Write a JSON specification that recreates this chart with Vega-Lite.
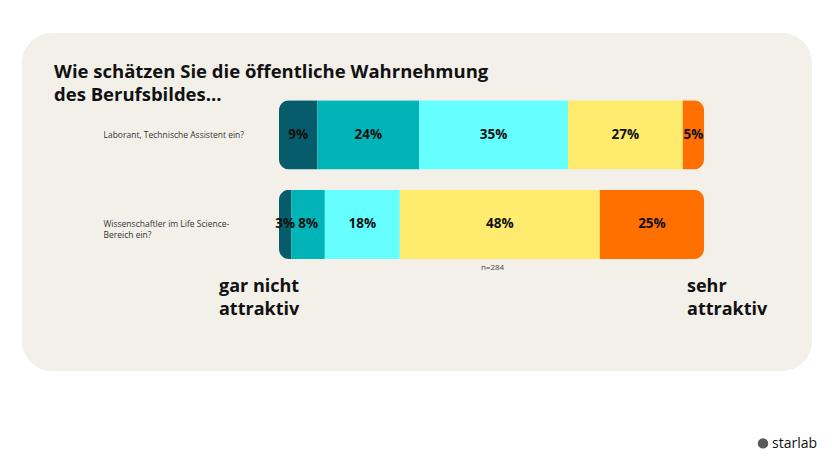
{
  "$schema": "https://vega.github.io/schema/vega-lite/v6.json",
  "autosize": {"type": "none"},
  "width": 790,
  "height": 338,
  "padding": {"left": 22, "top": 33, "right": 20, "bottom": 97},
  "background": "#ffffff",
  "view": {"fill": "#f3f0ea", "stroke": null, "cornerRadius": 30},
  "config": {"font": "Open Sans"},
  "title": {
    "text": ["Wie schätzen Sie die öffentliche Wahrnehmung", "des Berufsbildes..."],
    "anchor": "start",
    "frame": "group",
    "orient": "top",
    "offset": -71,
    "dx": 32,
    "fontSize": 18.5,
    "fontWeight": "bold",
    "color": "#111111",
    "lineHeight": 23,
    "font": "Open Sans"
  },
  "data": {
    "values": [
      {"item": "Laborant, Technische Assistent ein?", "level": 1, "value": 9, "label": "9%"},
      {"item": "Laborant, Technische Assistent ein?", "level": 2, "value": 24, "label": "24%"},
      {"item": "Laborant, Technische Assistent ein?", "level": 3, "value": 35, "label": "35%"},
      {"item": "Laborant, Technische Assistent ein?", "level": 4, "value": 27, "label": "27%"},
      {"item": "Laborant, Technische Assistent ein?", "level": 5, "value": 5, "label": "5%"},
      {"item": "Wissenschaftler im Life Science-Bereich ein?", "level": 1, "value": 3, "label": "3%"},
      {"item": "Wissenschaftler im Life Science-Bereich ein?", "level": 2, "value": 8, "label": "8%"},
      {"item": "Wissenschaftler im Life Science-Bereich ein?", "level": 3, "value": 18, "label": "18%"},
      {"item": "Wissenschaftler im Life Science-Bereich ein?", "level": 4, "value": 48, "label": "48%"},
      {"item": "Wissenschaftler im Life Science-Bereich ein?", "level": 5, "value": 25, "label": "25%"}
    ]
  },
  "layer": [
    {
      "mark": {"type": "bar", "cornerRadius": 10},
      "encoding": {
        "x": {
          "field": "value",
          "type": "quantitative",
          "stack": "normalize",
          "scale": {"domain": [-0.6047, 1.2541], "nice": false, "zero": false},
          "axis": null
        },
        "y": {
          "field": "item",
          "type": "nominal",
          "scale": {
            "domain": ["Laborant, Technische Assistent ein?", "Wissenschaftler im Life Science-Bereich ein?"],
            "paddingInner": 0.2235,
            "paddingOuter": 1.1,
            "align": 0.375
          },
          "axis": {
            "title": null,
            "domain": false,
            "ticks": false,
            "labelAlign": "left",
            "labelBaseline": "middle",
            "labelPadding": -81,
            "labelFontSize": 8.5,
            "labelColor": "#333333",
            "labelLimit": 300,
            "labelLineHeight": 11,
            "labelExpr": "datum.value == 'Wissenschaftler im Life Science-Bereich ein?' ? ['Wissenschaftler im Life Science-', 'Bereich ein?'] : datum.value"
          }
        },
        "color": {
          "field": "level",
          "type": "nominal",
          "scale": {"domain": [1, 2, 3, 4, 5], "range": ["#075c6c", "#00b4b8", "#66ffff", "#ffeb6e", "#ff7000"]},
          "legend": null
        },
        "order": {"field": "level", "type": "quantitative"}
      }
    },
    {
      "transform": [
        {"stack": "value", "groupby": ["item"], "sort": [{"field": "level"}], "offset": "normalize", "as": ["v0", "v1"]},
        {"fold": ["v0", "v1"], "as": ["edge", "pos"]}
      ],
      "mark": {"type": "text", "fontSize": 13.5, "fontWeight": "bold", "color": "#111111", "baseline": "middle"},
      "encoding": {
        "x": {"field": "pos", "aggregate": "mean", "type": "quantitative", "axis": null},
        "y": {"field": "item", "type": "nominal"},
        "detail": {"field": "level", "type": "nominal"},
        "text": {"field": "label", "type": "nominal"}
      }
    },
    {
      "data": {"values": [{"t": "gar nicht\nattraktiv"}]},
      "mark": {"type": "text", "fontSize": 18, "fontWeight": "bold", "color": "#111111", "align": "left", "baseline": "middle", "lineBreak": "\n", "lineHeight": 23, "dx": -60, "dy": 63},
      "encoding": {
        "x": {"datum": 0, "type": "quantitative", "axis": null},
        "y": {"datum": "Wissenschaftler im Life Science-Bereich ein?", "type": "nominal"},
        "text": {"field": "t", "type": "nominal"}
      }
    },
    {
      "data": {"values": [{"t": "sehr\nattraktiv"}]},
      "mark": {"type": "text", "fontSize": 18, "fontWeight": "bold", "color": "#111111", "align": "left", "baseline": "middle", "lineBreak": "\n", "lineHeight": 23, "dx": -17, "dy": 63},
      "encoding": {
        "x": {"datum": 1, "type": "quantitative", "axis": null},
        "y": {"datum": "Wissenschaftler im Life Science-Bereich ein?", "type": "nominal"},
        "text": {"field": "t", "type": "nominal"}
      }
    },
    {
      "data": {"values": [{"t": "n=284"}]},
      "mark": {"type": "text", "fontSize": 8, "color": "#444444", "align": "center", "baseline": "middle", "dx": 1, "dy": 44},
      "encoding": {
        "x": {"datum": 0.5, "type": "quantitative", "axis": null},
        "y": {"datum": "Wissenschaftler im Life Science-Bereich ein?", "type": "nominal"},
        "text": {"field": "t", "type": "nominal"}
      }
    },
    {
      "data": {"values": [{"t": "starlab"}]},
      "mark": {"type": "text", "fontSize": 14, "fontWeight": 500, "color": "#111111", "align": "left", "baseline": "middle", "dx": 68, "dy": 220},
      "encoding": {
        "x": {"datum": 1, "type": "quantitative", "axis": null},
        "y": {"datum": "Wissenschaftler im Life Science-Bereich ein?", "type": "nominal"},
        "text": {"field": "t", "type": "nominal"}
      }
    },
    {
      "data": {"values": [{"t": "logo"}]},
      "mark": {"type": "point", "shape": "circle", "filled": true, "color": "#111111", "size": 110, "xOffset": 59, "yOffset": 219},
      "encoding": {
        "x": {"datum": 1, "type": "quantitative", "axis": null},
        "y": {"datum": "Wissenschaftler im Life Science-Bereich ein?", "type": "nominal"}
      }
    }
  ]
}
